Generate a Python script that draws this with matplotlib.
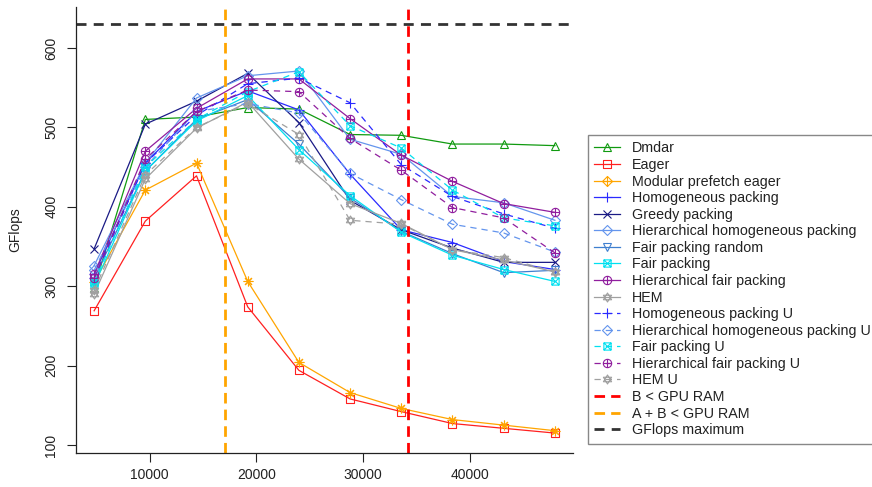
import matplotlib
matplotlib.use("Agg")
import matplotlib.pyplot as plt
from matplotlib.path import Path
from matplotlib.lines import Line2D

plt.rcParams['font.family'] = ['Liberation Sans', 'DejaVu Sans']

# ---------------- data ----------------
matrix_size = [4800, 9600, 14400, 19200, 24000, 28800, 33600, 38400, 43200, 48000]

dmdar = [298, 510, 513, 525, 523, 491, 490, 479, 479, 477]
eager = [269, 382, 439, 274, 194, 158, 142, 127, 121, 115]
modular_prefetch_eager = [305, 421, 455, 306, 204, 166, 146, 132, 125, 118]
homogeneous_packing = [315, 455, 520, 546, 522, 441, 371, 355, 331, 321]
greedy_packing = [347, 504, 533, 568, 506, 408, 371, 348, 330, 330]
hier_homogeneous_packing = [326, 455, 537, 565, 571, 485, 466, 413, 405, 383]
fair_packing_random = [310, 445, 510, 535, 479, 411, 369, 341, 317, 320]
fair_packing = [301, 445, 508, 540, 472, 414, 368, 339, 321, 306]
hier_fair_packing = [315, 470, 524, 561, 561, 511, 465, 432, 404, 393]
hem = [290, 435, 499, 532, 460, 404, 379, 346, 333, 318]
homogeneous_packing_u = [310, 455, 515, 555, 562, 531, 453, 413, 391, 373]
hier_homogeneous_packing_u = [320, 450, 520, 530, 518, 442, 409, 378, 367, 343]
fair_packing_u = [305, 450, 510, 545, 570, 502, 474, 421, 386, 376]
hier_fair_packing_u = [310, 460, 520, 547, 545, 486, 446, 399, 386, 342]
hem_u = [295, 440, 500, 530, 491, 383, 378, 346, 336, 318]

b_gpu_ram = 34200
ab_gpu_ram = 17050
gflops_max = 630

x_ticks = [10000, 20000, 30000, 40000]
y_ticks = [100, 200, 300, 400, 500, 600]

# ---------------- markers ----------------
M, L, C = Path.MOVETO, Path.LINETO, Path.CLOSEPOLY

def seg(p, q):
    return Path([p, q], [M, L])

square = Path([(-1, -1), (1, -1), (1, 1), (-1, 1), (-1, -1)], [M, L, L, L, C])
diamond = Path([(0, -1), (1, 0), (0, 1), (-1, 0), (0, -1)], [M, L, L, L, C])
sq_x = Path.make_compound_path(square, seg((-1, -1), (1, 1)), seg((-1, 1), (1, -1)))
circ_plus = Path.make_compound_path(Path.unit_circle(), seg((-1, 0), (1, 0)), seg((0, -1), (0, 1)))
diam_plus = Path.make_compound_path(diamond, seg((-1, 0), (1, 0)), seg((0, -1), (0, 1)))
tri_up = Path([(-1, -0.55), (1, -0.55), (0, 1.1), (-1, -0.55)], [M, L, L, C])
tri_dn = Path([(-1, 0.55), (1, 0.55), (0, -1.1), (-1, 0.55)], [M, L, L, C])
hem_marker = Path.make_compound_path(tri_up, tri_dn)
asterisk = (8, 2, 0)

c_green = "#109a10"
c_red = "#ff2020"
c_orange = "#ffa500"
c_blue = "#2a2aff"
c_navy = "#1a1a85"
c_cfblue = "#6495ed"
c_steel = "#3f7fcf"
c_cyan = "#00e0f0"
c_purple = "#901e9e"
c_gray = "#a0a0a0"

SOLID = '-'
DASH = (0, (5, 4))

series = [
    ("Dmdar", dmdar, c_green, SOLID, '^', 6.0),
    ("Eager", eager, c_red, SOLID, square, 5.2),
    ("Modular prefetch eager", modular_prefetch_eager, c_orange, SOLID, asterisk, 7.0),
    ("Homogeneous packing", homogeneous_packing, c_blue, SOLID, '+', 6.5),
    ("Greedy packing", greedy_packing, c_navy, SOLID, 'x', 5.2),
    ("Hierarchical homogeneous packing", hier_homogeneous_packing, c_cfblue, SOLID, diamond, 7.2),
    ("Fair packing random", fair_packing_random, c_steel, SOLID, 'v', 6.0),
    ("Fair packing", fair_packing, c_cyan, SOLID, sq_x, 5.2),
    ("Hierarchical fair packing", hier_fair_packing, c_purple, SOLID, circ_plus, 6.0),
    ("HEM", hem, c_gray, SOLID, hem_marker, 6.5),
    ("Homogeneous packing U", homogeneous_packing_u, c_blue, DASH, '+', 6.5),
    ("Hierarchical homogeneous packing U", hier_homogeneous_packing_u, c_cfblue, DASH, diamond, 7.2),
    ("Fair packing U", fair_packing_u, c_cyan, DASH, sq_x, 5.2),
    ("Hierarchical fair packing U", hier_fair_packing_u, c_purple, DASH, circ_plus, 6.0),
    ("HEM U", hem_u, c_gray, DASH, hem_marker, 6.5),
]

fig = plt.figure(figsize=(8.72, 4.87), dpi=100)
ax = fig.add_axes([75.7 / 872, 34 / 487, 497.6 / 872, 446 / 487])

handles = []
for label, vals, col, ls, mk, ms in series:
    ax.plot(matrix_size, vals, color=col, linestyle=ls, linewidth=0.9,
            marker=mk, markersize=ms, markerfacecolor='none',
            markeredgecolor=col, markeredgewidth=0.8)
    lmk, lms = mk, ms
    if label == "Modular prefetch eager":
        lmk, lms = diam_plus, 7.2
    handles.append(Line2D([], [], color=col, linestyle=ls, linewidth=0.9,
                          marker=lmk, markersize=lms, markerfacecolor='none',
                          markeredgecolor=col, markeredgewidth=0.8, label=label))

ax.axvline(b_gpu_ram, color='#ff0000', linewidth=2.0, linestyle=(0, (3.8, 2.2)))
ax.axvline(ab_gpu_ram, color='#ffa500', linewidth=2.0, linestyle=(0, (3.8, 2.2)))
ax.axhline(gflops_max, color='#333333', linewidth=2.0, linestyle=(0, (3.6, 2.6)))

handles.append(Line2D([], [], color='#ff0000', linewidth=2.0, linestyle=(0, (3.8, 2.2)), label="B < GPU RAM"))
handles.append(Line2D([], [], color='#ffa500', linewidth=2.0, linestyle=(0, (3.8, 2.2)), label="A + B < GPU RAM"))
handles.append(Line2D([], [], color='#333333', linewidth=2.0, linestyle=(0, (3.6, 2.6)), label="GFlops maximum"))

ax.set_xlim(3072, 49728)
ax.set_ylim(89.9, 651.6)
ax.set_xticks(x_ticks)
ax.set_yticks(y_ticks)
ax.set_xticklabels([str(t) for t in x_ticks])
ax.set_yticklabels([str(t) for t in y_ticks], rotation=90, va='center')
ax.tick_params(axis='both', length=6.5, width=0.8, labelsize=10, colors='#222222')
ax.tick_params(axis='y', pad=6)
ax.tick_params(axis='x', pad=4)
for s in ['top', 'right']:
    ax.spines[s].set_visible(False)
for s in ['left', 'bottom']:
    ax.spines[s].set_linewidth(0.9)
    ax.spines[s].set_color('#222222')

ax.set_ylabel("GFlops", fontsize=10, color='#222222')
ax.yaxis.set_label_coords(-0.108, 0.5)

leg = fig.legend(handles=handles, loc='upper left',
                 bbox_to_anchor=(588 / 872, (487 - 135) / 487),
                 fontsize=10.3, labelspacing=0.18, handlelength=1.8,
                 handletextpad=0.85, borderpad=0.45, borderaxespad=0.0,
                 fancybox=False, framealpha=1.0, edgecolor='#888888')
leg.get_frame().set_linewidth(1.0)
for t in leg.get_texts():
    t.set_color('#222222')

fig.savefig("out.png", dpi=100)
